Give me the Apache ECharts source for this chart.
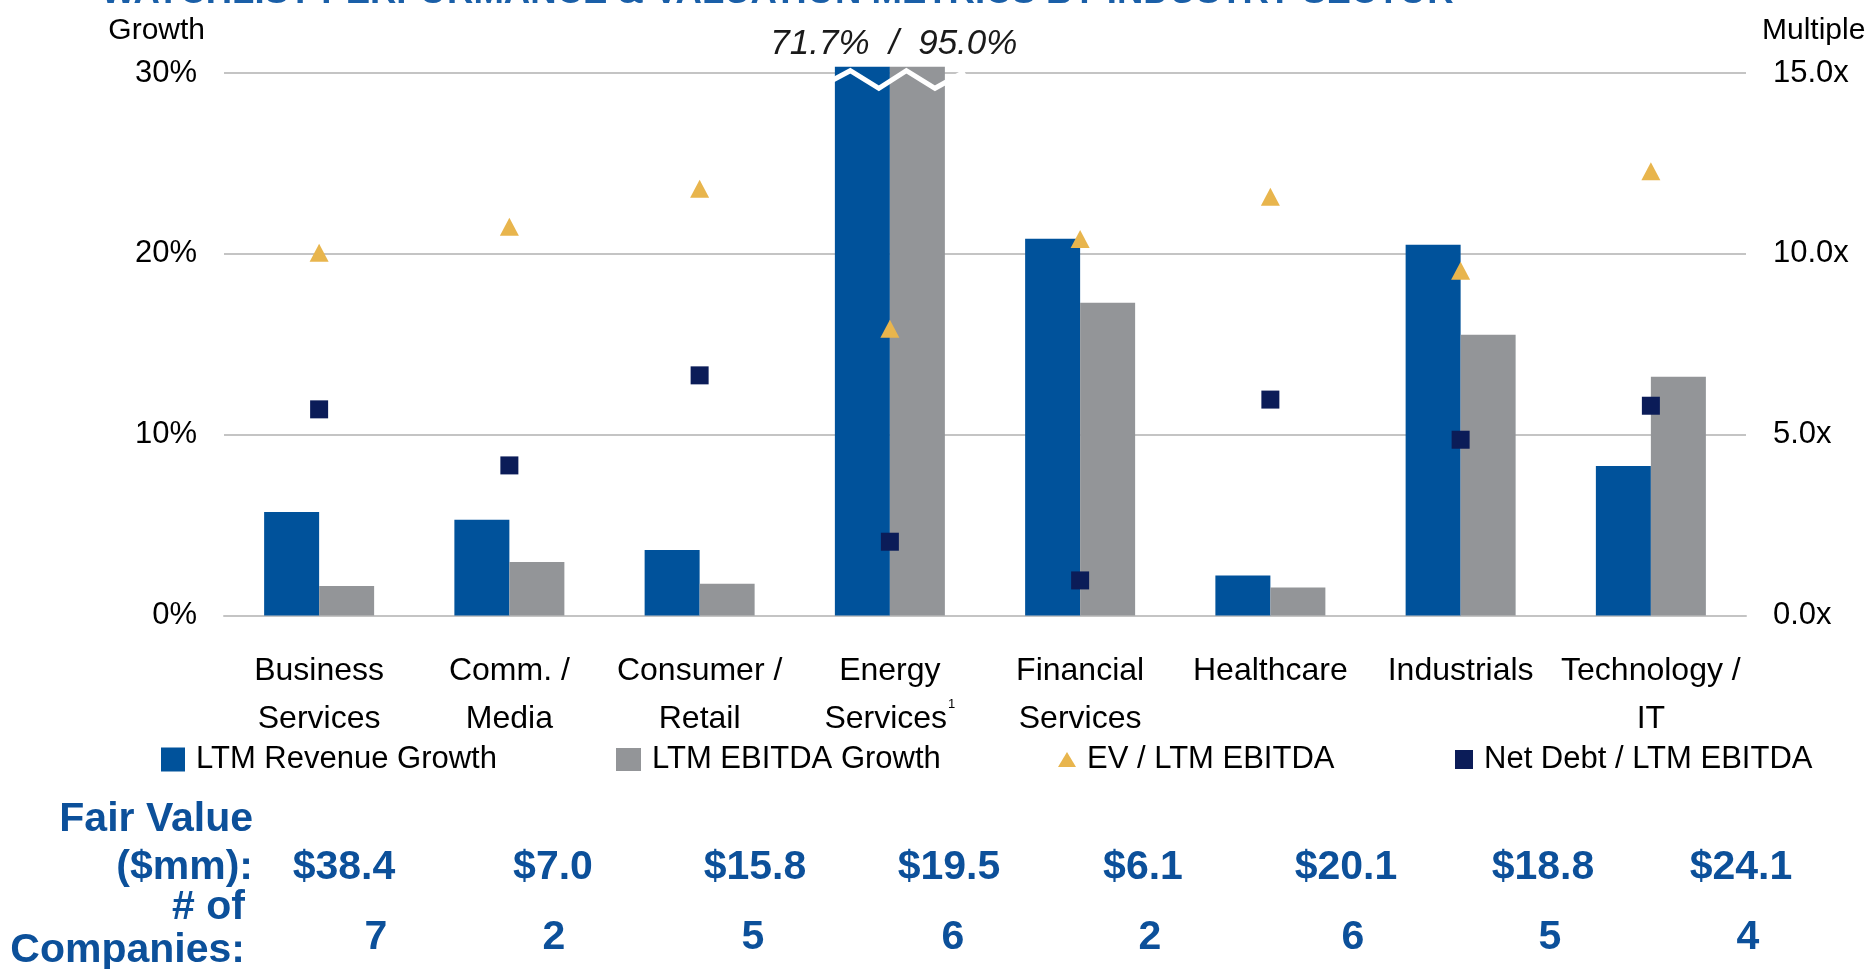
<!DOCTYPE html>
<html><head><meta charset="utf-8">
<script src="https://cdn.jsdelivr.net/npm/echarts@6.0.0/dist/echarts.min.js"></script>
<style>html,body{margin:0;padding:0;background:#fff}#chart{width:1871px;height:969px}</style>
</head><body><div id="chart"></div>
<script>
// ---------------- DATA ----------------
const titleText = 'WATCHLIST PERFORMANCE & VALUATION METRICS BY INDUSTRY SECTOR';
const categories = ['Business Services', 'Comm. / Media', 'Consumer / Retail', 'Energy Services',
  'Financial Services', 'Healthcare', 'Industrials', 'Technology / IT'];
const categoryLabels = ['Business\nServices', 'Comm. /\nMedia', 'Consumer /\nRetail', 'Energy\nServices{sup|1}',
  'Financial\nServices', 'Healthcare', 'Industrials', 'Technology /\nIT'];
const revenueGrowth = [5.73, 5.29, 3.62, 71.7, 20.84, 2.21, 20.5, 8.27];   // %
const ebitdaGrowth  = [1.63, 2.96, 1.75, 95.0, 17.3, 1.55, 15.53, 13.2];   // %
const evEbitda      = [10.03, 10.75, 11.8, 7.93, 10.41, 11.58, 9.53, 12.28]; // x
const netDebtEbitda = [5.7, 4.15, 6.64, 2.04, 0.97, 5.97, 4.86, 5.8];       // x
const fairValue     = [38.4, 7.0, 15.8, 19.5, 6.1, 20.1, 18.8, 24.1];       // $mm
const companyCounts = [7, 2, 5, 6, 2, 6, 5, 4];
const growthTicks   = { min: 0, max: 30, interval: 10 };
const multipleTicks = { min: 0, max: 15, interval: 5 };
const seriesNames = ['LTM Revenue Growth', 'LTM EBITDA Growth', 'EV / LTM EBITDA', 'Net Debt / LTM EBITDA'];

// ---------------- STYLE / LAYOUT ----------------
const FONT = '"Liberation Sans", Arial, Helvetica, sans-serif';
const C_BLUE = '#00529B', C_GRAY = '#939598', C_GOLD = '#E8B54D', C_NAVY = '#0B1C58';
const C_TEXT_BLUE = '#0C509A', C_GRID = '#C4C4C4';
const BREAK_CAP = 30.35;  // bars beyond the axis top are drawn broken just above it
const GRID = { left: 224, right: 125, top: 73, bottom: 353.5 };
const valueColX = [344, 553, 755, 949, 1143, 1346, 1543, 1741];
const countColX = [376, 554, 753, 953, 1150, 1353, 1550, 1748];

const chart = echarts.init(document.getElementById('chart'));

const legendBase = {
  orient: 'horizontal', padding: 0, top: 744, selectedMode: true,
  textStyle: { fontFamily: FONT, fontSize: 31, color: '#000', padding: [0, 0, 0, 6] }
};

const option = {
  animation: false,
  backgroundColor: '#fff',
  textStyle: { fontFamily: FONT },
  grid: GRID,
  legend: [
    Object.assign({}, legendBase, { data: [{ name: seriesNames[0], icon: 'rect' }], left: 161, itemWidth: 24, itemHeight: 24 }),
    Object.assign({}, legendBase, { data: [{ name: seriesNames[1], icon: 'rect' }], left: 616, itemWidth: 25, itemHeight: 23 }),
    Object.assign({}, legendBase, { data: [{ name: seriesNames[2], icon: 'triangle' }], left: 1058, itemWidth: 18, itemHeight: 15 }),
    Object.assign({}, legendBase, { data: [{ name: seriesNames[3], icon: 'rect' }], left: 1455, itemWidth: 18, itemHeight: 19 })
  ],
  xAxis: {
    type: 'category',
    data: categories,
    axisTick: { show: false },
    axisLine: { lineStyle: { color: C_GRID, width: 2 } },
    axisLabel: {
      interval: 0, margin: 32, fontFamily: FONT, fontSize: 32, lineHeight: 48, color: '#000',
      formatter: (v, i) => categoryLabels[i],
      rich: { sup: { fontFamily: FONT, fontSize: 13, lineHeight: 48, verticalAlign: 'top', padding: [2, 0, 0, 1], color: '#000' } }
    }
  },
  yAxis: [
    {
      type: 'value', min: growthTicks.min, max: growthTicks.max, interval: growthTicks.interval,
      name: 'Growth', nameLocation: 'end', nameGap: 42,
      nameTextStyle: { fontFamily: FONT, fontSize: 30, color: '#000', align: 'right', verticalAlign: 'middle', padding: [0, 19, 0, 0] },
      axisLine: { show: false }, axisTick: { show: false },
      axisLabel: { formatter: '{value}%', fontFamily: FONT, fontSize: 31, color: '#000', margin: 27 },
      splitLine: { lineStyle: { color: C_GRID, width: 2 } }
    },
    {
      type: 'value', min: multipleTicks.min, max: multipleTicks.max, interval: multipleTicks.interval,
      position: 'right',
      name: 'Multiple', nameLocation: 'end', nameGap: 42,
      nameTextStyle: { fontFamily: FONT, fontSize: 30, color: '#000', align: 'left', verticalAlign: 'middle', padding: [0, 0, 0, 16] },
      axisLine: { show: false }, axisTick: { show: false },
      axisLabel: { formatter: v => v.toFixed(1) + 'x', fontFamily: FONT, fontSize: 31, color: '#000', margin: 27 },
      splitLine: { show: false }
    }
  ],
  series: [
    {
      name: seriesNames[0], type: 'bar', yAxisIndex: 0, barWidth: 55, barGap: '0%', clip: false,
      itemStyle: { color: C_BLUE },
      data: revenueGrowth.map(v => Math.min(v, BREAK_CAP))
    },
    {
      name: seriesNames[1], type: 'bar', yAxisIndex: 0, barWidth: 55, barGap: '0%', clip: false,
      itemStyle: { color: C_GRAY },
      data: ebitdaGrowth.map(v => Math.min(v, BREAK_CAP))
    },
    {
      name: seriesNames[2], type: 'scatter', yAxisIndex: 1, symbol: 'triangle', symbolSize: [19, 18],
      itemStyle: { color: C_GOLD, opacity: 1 }, z: 5,
      data: evEbitda
    },
    {
      name: seriesNames[3], type: 'scatter', yAxisIndex: 1, symbol: 'rect', symbolSize: 18,
      itemStyle: { color: C_NAVY, opacity: 1 }, z: 6,
      data: netDebtEbitda
    }
  ]
};
chart.setOption(option);

// ---------------- Extra graphics (axis break, table, title) ----------------
const brokenIdx = revenueGrowth.findIndex((v, i) => v > growthTicks.max || ebitdaGrowth[i] > growthTicks.max);
const cx = chart.convertToPixel({ xAxisIndex: 0 }, categories[brokenIdx]);
const yTop = chart.convertToPixel({ yAxisIndex: 0 }, growthTicks.max);
const L = cx - 55, W = 110;
const zig = [
  [L - 2, yTop + 7], [L + 0.14 * W, yTop - 2.3], [L + 0.40 * W, yTop + 15.3],
  [L + 0.65 * W, yTop - 2.3], [L + 0.91 * W, yTop + 15.3], [L + 1.18 * W, yTop - 1.3]
];

function txt(x, y, text, font, color, align) {
  return {
    type: 'text', x: x, y: y, z: 100, silent: true,
    style: { text: text, font: font, fill: color, align: align, textAlign: align,
             verticalAlign: 'middle', textVerticalAlign: 'middle' }
  };
}
const boldFont = 'bold 41px ' + FONT;
const graphics = [
  { type: 'polyline', z: 100, silent: true, shape: { points: zig },
    style: { stroke: '#fff', lineWidth: 5, fill: null, lineJoin: 'miter' } },
  txt(cx + 4, yTop - 29,
      revenueGrowth[brokenIdx].toFixed(1) + '%  /  ' + ebitdaGrowth[brokenIdx].toFixed(1) + '%',
      'italic 35px ' + FONT, '#1a1a1a', 'center'),
  txt(101, -7, titleText, 'bold 36.5px ' + FONT, '#1A5FA8', 'left'),
  txt(253, 820, 'Fair Value', boldFont, C_TEXT_BLUE, 'right'),
  txt(253, 868, '($mm):', boldFont, C_TEXT_BLUE, 'right'),
  txt(245, 908, '# of', boldFont, C_TEXT_BLUE, 'right'),
  txt(245, 951, 'Companies:', boldFont, C_TEXT_BLUE, 'right')
];
fairValue.forEach((v, i) => graphics.push(txt(valueColX[i], 868, '$' + v.toFixed(1), boldFont, C_TEXT_BLUE, 'center')));
companyCounts.forEach((v, i) => graphics.push(txt(countColX[i], 938, String(v), boldFont, C_TEXT_BLUE, 'center')));

chart.setOption({ graphic: graphics });
</script></body></html>
